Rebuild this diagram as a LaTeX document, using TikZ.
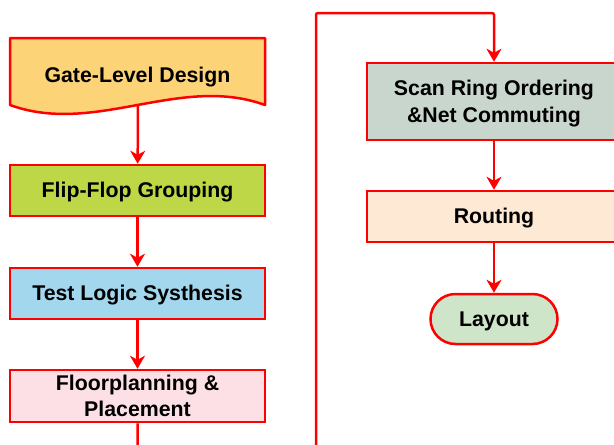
\documentclass[tikz,border=0pt]{standalone}
\usepackage{fontspec}
\setmainfont{Liberation Sans}
\usetikzlibrary{arrows.meta}
\definecolor{lred}{HTML}{FF0000}
\definecolor{cgld}{HTML}{FCD377}
\definecolor{cff}{HTML}{BED746}
\definecolor{ctls}{HTML}{A3D7EE}
\definecolor{cfp}{HTML}{FDE0E5}
\definecolor{cscan}{HTML}{C9D6CE}
\definecolor{crout}{HTML}{FDE9D4}
\definecolor{clay}{HTML}{CFE5C9}
\tikzset{
  lbl/.style={font=\fontsize{21.3}{26}\selectfont\bfseries, align=center, text=black},
  one/.style={text height=19pt, text depth=4.1pt},
  procbox/.style={lbl, draw=lred, line width=2.5pt, minimum width=255pt, minimum height=51pt, inner sep=0pt},
  termbox/.style={lbl, draw=lred, line width=2.5pt, minimum width=127pt, minimum height=50pt, rounded corners=25pt, inner sep=0pt},
  flow/.style={draw=lred, line width=2.5pt, -{Stealth[length=13pt,width=15pt,inset=4pt]}},
}
\begin{document}
\begin{tikzpicture}[x=1pt,y=-1pt]
\useasboundingbox (0,0) rectangle (614,445);
\clip (0,0) rectangle (614,445);
% document shape
\filldraw[fill=cgld, draw=lred, line width=2.5pt, line join=round]
  (10,38) -- (265,38) -- (265,105) .. controls (180,74) and (95,136) .. (10,105) -- cycle;
\node[lbl, one] (gld) at (137.5,75) {Gate-Level Design};
\coordinate (gldb) at (138,106);
\node[procbox, one, fill=cff] (ff) at (137.5,190.5) {Flip-Flop Grouping};
\node[procbox, one, fill=ctls] (tls) at (137.5,293.5) {Test Logic Systhesis};
\node[procbox, fill=cfp, minimum height=52pt] (fp) at (137.5,396) {Floorplanning \&\\Placement};
\node[procbox, fill=cscan, minimum width=254pt, minimum height=77pt] (scan) at (494,101.5) {};
\node[lbl, font=\fontsize{21.3}{27}\selectfont\bfseries] (scanlbl) at (494,103.5) {Scan Ring Ordering\\\&Net Commuting};
\node[procbox, one, fill=crout, minimum width=254pt] (rout) at (494,216.5) {Routing};
\node[termbox, one, fill=clay] (lay) at (494,319) {Layout};
\coordinate (loopb) at (316,480);
\coordinate (loopt) at (316,13);
\draw[flow] (gldb) -- (ff);
\draw[flow] (ff) -- (tls);
\draw[flow] (tls) -- (fp);
\draw[flow, rounded corners=2pt] (fp.south) |- (loopb) -- (loopt) -| (scan.north);
\draw[flow] (scan) -- (rout);
\draw[flow] (rout) -- (lay);
\end{tikzpicture}
\end{document}
